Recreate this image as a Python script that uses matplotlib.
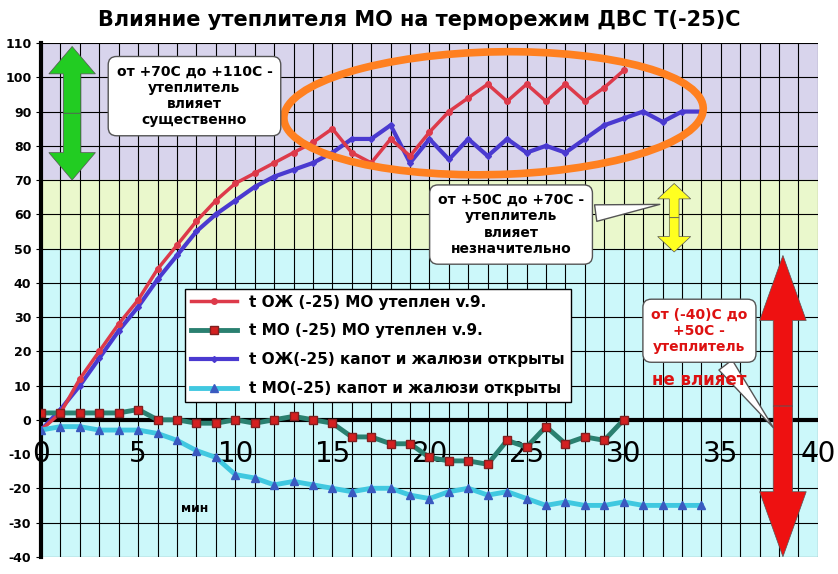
import matplotlib
matplotlib.use("Agg")
import matplotlib.pyplot as plt
from matplotlib.patches import Ellipse, FancyArrow

t_red = list(range(0, 31))
red = [-3, 2, 12, 20, 28, 35, 44, 51, 58, 64, 69, 72, 75, 78, 81, 85, 78, 75, 82, 77, 84, 90, 94, 98, 93, 98, 93, 98, 93, 97, 102]
t_green = list(range(0, 31))
green = [2, 2, 2, 2, 2, 3, 0, 0, -1, -1, 0, -1, 0, 1, 0, -1, -5, -5, -7, -7, -11, -12, -12, -13, -6, -8, -2, -7, -5, -6, 0]
t_blue = list(range(0, 35))
blue = [-3, 3, 10, 18, 26, 33, 41, 48, 55, 60, 64, 68, 71, 73, 75, 78, 82, 82, 86, 75, 82, 76, 82, 77, 82, 78, 80, 78, 82, 86, 88, 90, 87, 90, 90]
t_cyan = list(range(0, 35))
cyan = [-3, -2, -2, -3, -3, -3, -4, -6, -9, -11, -16, -17, -19, -18, -19, -20, -21, -20, -20, -22, -23, -21, -20, -22, -21, -23, -25, -24, -25, -25, -24, -25, -25, -25, -25]
labels = ["t ОЖ (-25) МО утеплен v.9.", "t МО (-25) МО утеплен v.9.",
          "t ОЖ(-25) капот и жалюзи открыты", "t МО(-25) капот и жалюзи открыты"]
xticks = [0, 5, 10, 15, 20, 25, 30, 35, 40]
yticks = list(range(-40, 111, 10))

plt.rcParams['font.family'] = ['DejaVu Sans']
fig = plt.figure(figsize=(8.38, 5.74), dpi=100)
ax = fig.add_axes([0.049, 0.03, 0.927, 0.895])
ax.set_xlim(0, 40); ax.set_ylim(-40, 110)
ax.axhspan(70, 110, color='#d8d4ec', zorder=0)
ax.axhspan(50, 70, color='#eaf8cc', zorder=0)
ax.axhspan(-40, 50, color='#ccf8fa', zorder=0)
for x in range(1, 41):
    ax.axvline(x, color='black', lw=0.8, zorder=1)
for y in yticks:
    ax.axhline(y, color='black', lw=0.8, zorder=1)
ax.axhline(0, color='black', lw=3, zorder=2)
ax.set_xticks([]); ax.set_yticks(yticks)
ax.set_yticklabels([str(v) for v in yticks], fontsize=9, fontweight='bold')
for s in ['top', 'right', 'bottom']:
    ax.spines[s].set_visible(False)
ax.spines['left'].set_linewidth(3)
for x in xticks:
    ax.text(x, -10, str(x), fontsize=20, ha='center', va='center', zorder=3)
ax.text(7.9, -27, 'мин', fontsize=9, fontweight='bold', ha='center')

l1, = ax.plot(t_red, red, color='#dd3a4a', lw=2.5, marker='o', ms=4, zorder=5, label=labels[0])
l2, = ax.plot(t_green, green, color='#2a8070', lw=3.5, marker='s', ms=6, mfc='#d42020', mec='#802020', zorder=5, label=labels[1])
l3, = ax.plot(t_blue, blue, color='#4a3ad0', lw=3, marker='D', ms=3, zorder=4, label=labels[2])
l4, = ax.plot(t_cyan, cyan, color='#40c8e0', lw=3.5, marker='^', ms=6, mfc='#3a5ac0', mec='#3a5ac0', zorder=5, label=labels[3])

leg = ax.legend(handles=[l1, l2, l3, l4], loc='upper left', bbox_to_anchor=(0.175, 0.537),
                fancybox=False, framealpha=1, edgecolor='black', prop={'weight': 'bold', 'size': 11},
                handlelength=3, labelspacing=0.9)
leg.set_zorder(6)

ax.add_patch(Ellipse((23.3, 89.5), 21.5, 36, angle=-4, fill=False, ec='#ff8020', lw=5.5, zorder=7))

def darrow(x, y0, y1, c, w, hw, hl):
    m = (y0 + y1) / 2
    for a, b in ((m, y1), (m, y0)):
        ax.add_patch(FancyArrow(x, a, 0, b - a, width=w, head_width=hw, head_length=hl,
                                length_includes_head=True, fc=c, ec='#555555', lw=0.5, zorder=8))
darrow(1.6, 70, 109, '#22cc22', 0.9, 2.4, 8)
darrow(32.6, 49, 69, '#ffff20', 0.5, 1.7, 4.5)
darrow(38.2, -40, 48, '#ee1111', 1.0, 2.4, 19)

bb = dict(boxstyle='round,pad=0.6', fc='white', ec='#555555')
ax.annotate('от +70С до +110С -\nутеплитель\nвлияет\nсущественно', xy=(12.0, 84), xytext=(7.9, 94.5),
            ha='center', va='center', fontsize=10, fontweight='bold', bbox=bb, zorder=9,
            arrowprops=dict(arrowstyle='wedge,tail_width=1.2', fc='white', ec='#555555'))
ax.annotate('от +50С до +70С -\nутеплитель\nвлияет\nнезначительно', xy=(32.0, 63), xytext=(24.2, 57),
            ha='center', va='center', fontsize=10, fontweight='bold', bbox=bb, zorder=9,
            arrowprops=dict(arrowstyle='wedge,tail_width=1.2', fc='white', ec='#555555'))
ax.annotate('от (-40)С до\n+50С -\nутеплитель', xy=(37.8, -3), xytext=(33.9, 26),
            ha='center', va='center', fontsize=10, fontweight='bold', color='#dd1111', bbox=bb, zorder=9,
            arrowprops=dict(arrowstyle='wedge,tail_width=1.2', fc='white', ec='#555555'))
ax.text(33.9, 11.5, 'не влияет', ha='center', va='center', fontsize=12, fontweight='bold', color='#dd1111', zorder=10)

fig.text(0.5, 0.965, 'Влияние утеплителя МО на терморежим ДВС Т(-25)С', ha='center', va='center',
         fontsize=15, fontweight='bold')
fig.savefig('out.png', dpi=100)
